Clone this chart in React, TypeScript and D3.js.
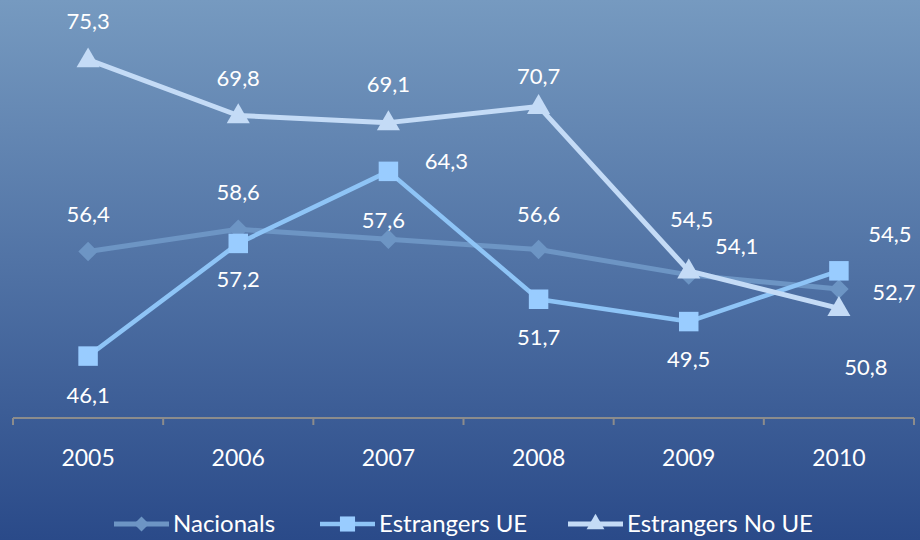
import React from "react";
import * as d3 from "d3";

const years = ["2005", "2006", "2007", "2008", "2009", "2010"];
const nacionals = [56.4, 58.6, 57.6, 56.6, 54.1, 52.7];
const estrangersUE = [46.1, 57.2, 64.3, 51.7, 49.5, 54.5];
const estrangersNoUE = [75.3, 69.8, 69.1, 70.7, 54.5, 50.8];
const seriesNames = ["Nacionals", "Estrangers UE", "Estrangers No UE"];
// label offsets (dx, dy) relative to each point
const nacOffsets = [[0, -37], [0, -37], [-5, -19], [0, -35], [48, -29], [55, 3]];
const ueOffsets = [[0, 39], [0, 36], [58, -10], [0, 38], [0, 38], [51, -37]];
const noUeOffsets = [[0, -38], [0, -37], [0, -38], [0, -30], [3, -52], [27, 59]];

const W = 920, H = 540;

export default function App() {
  const x = d3.scaleBand().domain(years).range([13, 914]);
  const y = d3.scaleLinear().domain([40, 80]).range([418, 12]);
  const cx = (yr: string) => (x(yr) as number) + x.bandwidth() / 2;

  const series = [
    { name: seriesNames[0], values: nacionals, color: "#6d95c4", marker: "#6d95c4", width: 5, shape: d3.symbolSquare, rot: 45, size: 190, offsets: nacOffsets },
    { name: seriesNames[1], values: estrangersUE, color: "#8ec4f6", marker: "#99ccff", width: 4.5, shape: d3.symbolSquare, rot: 0, size: 380, offsets: ueOffsets },
    { name: seriesNames[2], values: estrangersNoUE, color: "#c4dbf6", marker: "#c4dbf6", width: 5, shape: d3.symbolTriangle, rot: 0, size: 230, offsets: noUeOffsets },
  ];

  const line = d3.line<number>().x((_, i) => cx(years[i])).y((v) => y(v));
  const font = "Lato, 'Open Sans', sans-serif";
  const fmt = (v: number) => v.toFixed(1).replace(".", ",");

  const ticks = [...years.map((yr) => x(yr) as number), 914];
  const legendX = [114, 320, 568];

  return (
    <div>
      <style>{"body{margin:0}"}</style>
      <svg width={W} height={H} style={{ display: "block" }}>
        <defs>
          <linearGradient id="bg" x1="0" y1="0" x2="0" y2="1">
            <stop offset="0" stopColor="#769ac0" />
            <stop offset="1" stopColor="#2a4a89" />
          </linearGradient>
        </defs>
        <rect width={W} height={H} fill="url(#bg)" />
        {/* axis */}
        <line x1={13} x2={914} y1={y(40)} y2={y(40)} stroke="#8c8c8c" strokeWidth={2} />
        {ticks.map((t, i) => (
          <line key={i} x1={t} x2={t} y1={y(40)} y2={y(40) + 7} stroke="#8c8c8c" strokeWidth={2} />
        ))}
        {years.map((yr) => (
          <text key={yr} x={cx(yr)} y={466} textAnchor="middle" fill="#fff" fontSize={23} fontFamily={font}>{yr}</text>
        ))}
        {series.map((s) => (
          <g key={s.name}>
            <path d={line(s.values) as string} fill="none" stroke={s.color} strokeWidth={s.width} strokeLinejoin="round" />
            {s.values.map((v, i) => (
              <path key={i} d={d3.symbol().type(s.shape).size(s.size)() as string}
                transform={`translate(${cx(years[i])},${y(v) + (s.shape === d3.symbolTriangle ? 1 : 0)}) rotate(${s.rot})`} fill={s.marker} />
            ))}
          </g>
        ))}
        {series.map((s) =>
          s.values.map((v, i) => (
            <text key={s.name + i} x={cx(years[i]) + s.offsets[i][0]} y={y(v) + s.offsets[i][1]} dy="0.35em"
              textAnchor="middle" fill="#fff" fontSize={22} fontFamily={font}>{fmt(v)}</text>
          ))
        )}
        {/* legend */}
        {series.map((s, i) => (
          <g key={s.name} transform={`translate(${legendX[i]},524)`}>
            <line x1={0} x2={55} y1={0} y2={0} stroke={s.color} strokeWidth={s.width} />
            <path d={d3.symbol().type(s.shape).size(s.size * 0.6)() as string} transform={`translate(27.5,0) rotate(${s.rot})`} fill={s.marker} />
            <text x={59} y={0} dy="0.35em" fill="#fff" fontSize={24} fontFamily={font}>{s.name}</text>
          </g>
        ))}
      </svg>
    </div>
  );
}
